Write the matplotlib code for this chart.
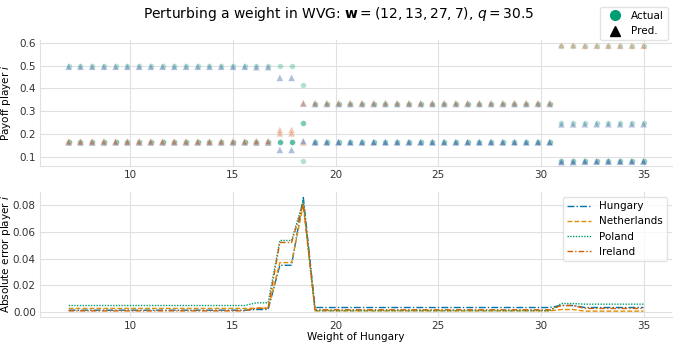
import numpy as np
import matplotlib.pyplot as plt
from matplotlib.lines import Line2D

# weight of Hungary, 50 evenly spaced points
weights = np.linspace(7, 35, 50)
# run lengths of the regimes along the x axis
seg = [16, 2, 2, 1, 21, 2, 6]

players = ['Hungary', 'Netherlands', 'Poland', 'Ireland']

act_hungary = [0.1667, 0.1667, 0.1667, 0.25, 0.3333, 0.5833, 0.5833]
act_netherlands = [0.1667, 0.1667, 0.1667, 0.25, 0.1667, 0.0833, 0.0833]
act_poland = [0.5, 0.5, 0.5, 0.4167, 0.3333, 0.25, 0.25]
act_ireland = [0.1667, 0.1667, 0.1667, 0.0833, 0.1667, 0.0833, 0.0833]

pred_hungary = [0.1682, 0.1687, 0.1317, 0.3355, 0.3368, 0.5883, 0.5868]
pred_netherlands = [0.1639, 0.1637, 0.2037, 0.17, 0.1657, 0.0813, 0.0825]
pred_poland = [0.4950, 0.4930, 0.4465, 0.3337, 0.3321, 0.2435, 0.2440]
pred_ireland = [0.1677, 0.1697, 0.2187, 0.1643, 0.1649, 0.0783, 0.0805]

actual = {p: np.repeat(v, seg) for p, v in zip(players, [act_hungary, act_netherlands, act_poland, act_ireland])}
pred = {p: np.repeat(v, seg) for p, v in zip(players, [pred_hungary, pred_netherlands, pred_poland, pred_ireland])}

line_colors = {'Hungary': '#0173b2', 'Netherlands': '#de8f05', 'Poland': '#029e73', 'Ireland': '#d55e00'}
line_styles = {'Hungary': (0, (5, 1.5, 1, 1.5)), 'Netherlands': (0, (3.5, 1.5)),
               'Poland': (0, (1, 1)), 'Ireland': (0, (4, 1.5, 1, 1.5))}
over_col, under_col, act_col = '#dd8452', '#4c72b0', '#029e73'
grid_col = '#e0e0e0'

plt.rcParams['font.family'] = 'DejaVu Sans'
fig = plt.figure(figsize=(6.77, 3.47), dpi=100)
ax1 = fig.add_axes([0.059, 0.522, 0.934, 0.363])
ax2 = fig.add_axes([0.059, 0.087, 0.934, 0.36])

for p in players:
    ax1.scatter(weights, actual[p], marker='o', s=16, color=act_col, alpha=0.3,
                edgecolors='white', linewidths=0.3, zorder=3)
for p in players[::-1]:
    diff = pred[p] - actual[p]
    cols = np.where(diff >= 0, over_col, under_col)
    ax1.scatter(weights, pred[p], marker='^', s=24, c=cols, alpha=0.45,
                edgecolors='white', linewidths=0.3, zorder=3)

for p in players:
    err = np.abs(pred[p] - actual[p])
    ax2.plot(weights, err, color=line_colors[p], linestyle=line_styles[p], lw=1, label=p)

for ax in (ax1, ax2):
    ax.grid(True, color=grid_col, lw=0.8)
    ax.set_axisbelow(True)
    for s in ['top', 'right']:
        ax.spines[s].set_visible(False)
    for s in ['left', 'bottom']:
        ax.spines[s].set_color(grid_col)
    ax.tick_params(length=0, labelsize=7.5, colors='#333333', pad=3)
    ax.set_xlim(5.6, 36.4)
    ax.set_xticks([10, 15, 20, 25, 30, 35])

ax1.set_ylim(0.062, 0.612)
ax1.set_yticks([0.1, 0.2, 0.3, 0.4, 0.5, 0.6])
ax1.set_yticklabels(['0.1', '0.2', '0.3', '0.4', '0.5', '0.6'])
ax1.set_ylabel('Payoff player $i$', fontsize=7.5)
ax2.set_yticks([0.0, 0.02, 0.04, 0.06, 0.08])
ax2.set_ylabel('Absolute error player $i$', fontsize=7.5)
ax2.set_xlabel('Weight of Hungary', fontsize=7.5, labelpad=1)
ax1.yaxis.set_label_coords(-0.042, 0.5)
ax2.yaxis.set_label_coords(-0.042, 0.5)

ax2.legend(loc='upper right', fontsize=7.5, frameon=True, framealpha=0.8,
           edgecolor='#dddddd', handlelength=2.3)

handles = [Line2D([], [], marker='o', color=act_col, linestyle='none', markersize=7),
           Line2D([], [], marker='^', color='black', linestyle='none', markersize=7)]
fig.legend(handles, ['Actual', 'Pred.'], loc='upper right', bbox_to_anchor=(0.995, 0.995),
           fontsize=7.5, frameon=True, edgecolor='#dddddd', handletextpad=0.6)

fig.suptitle(r'Perturbing a weight in WVG: $\mathbf{w} = (12, 13, 27, 7)$, $q = 30.5$',
             fontsize=10, y=0.985)

fig.savefig('out.png', dpi=100)
